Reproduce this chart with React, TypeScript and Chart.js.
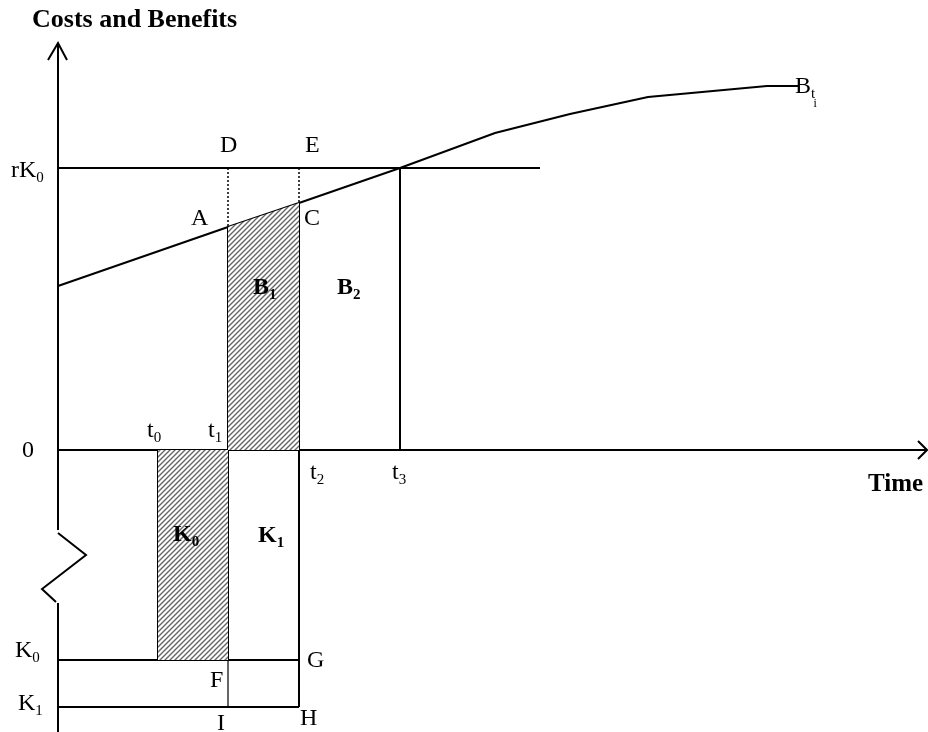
import React, { useEffect, useRef } from "react";
import { Chart, registerables } from "chart.js";

Chart.register(...registerables);

// Time points on the horizontal axis (t0..t3), measured from the vertical axis
const timeNames = ["t0", "t1", "t2", "t3"];
const timePoints = [100, 170, 241, 342];

// Levels on the vertical axis
const levelNames = ["rK0", "0", "K0", "K1"];
const levelValues = [282, 0, -210, -257];

// Benefit curve B_ti
const benefitX = [0, 170, 241, 342, 437, 512, 590, 709, 740];
const benefitY = [164, 223, 247, 282, 317, 336, 353, 364, 364];

// Axis extents
const axisTop = 407;
const axisBreakTop = -80;
const axisBreakBottom = -153;
const axisBottom = -282;
const timeAxisEnd = 869;
const rK0LineEnd = 482;

const FONT = '"Liberation Serif", "Times New Roman", serif';

function makeHatch(): CanvasPattern | string {
  const s = 5;
  const c = document.createElement("canvas");
  c.width = s;
  c.height = s;
  const g = c.getContext("2d");
  if (!g) return "#999";
  g.fillStyle = "#ffffff";
  g.fillRect(0, 0, s, s);
  g.strokeStyle = "#666666";
  g.lineWidth = 1.4;
  g.beginPath();
  g.moveTo(0, s);
  g.lineTo(s, 0);
  g.moveTo(-1, 1);
  g.lineTo(1, -1);
  g.moveTo(s - 1, s + 1);
  g.lineTo(s + 1, s - 1);
  g.stroke();
  const p = g.createPattern(c, "repeat");
  return p || "#999";
}

type Label = {
  text: string;
  sub?: string;
  subsub?: string;
  x: number;
  y: number;
  bold?: boolean;
  size?: number;
};

export default function App() {
  const ref = useRef<HTMLCanvasElement | null>(null);

  useEffect(() => {
    document.body.style.margin = "0";
    document.body.style.overflow = "hidden";
    const canvas = ref.current;
    if (!canvas) return;
    const hatch = makeHatch();

    const [t0, t1, t2, t3] = timePoints;
    const [rK0, zero, K0, K1] = levelValues;
    const yA = benefitY[1];
    const yC = benefitY[2];

    const line = (pts: [number, number][], extra: any = {}) => ({
      type: "line",
      data: pts.map(([x, y]) => ({ x, y })),
      borderColor: "#000",
      borderWidth: 2,
      pointRadius: 0,
      fill: false,
      tension: 0,
      clip: false,
      ...extra,
    });

    const labels: Label[] = [
      { text: "Costs and Benefits", x: -26, y: 423, bold: true, size: 26 },
      { text: "rK", sub: "0", x: -47, y: rK0 - 9 },
      { text: "D", x: t1 - 8, y: rK0 + 16 },
      { text: "E", x: t2 + 6, y: rK0 + 16 },
      { text: "A", x: t1 - 37, y: yA + 2 },
      { text: "C", x: t2 + 5, y: yC - 22 },
      { text: "B", sub: "1", x: 195, y: 156, bold: true },
      { text: "B", sub: "2", x: 279, y: 156, bold: true },
      { text: levelNames[1], x: -36, y: zero - 7 },
      { text: "t", sub: "0", x: t0 - 11, y: 13 },
      { text: "t", sub: "1", x: t1 - 20, y: 13 },
      { text: "t", sub: "2", x: t2 + 11, y: -29 },
      { text: "t", sub: "3", x: t3 - 8, y: -29 },
      { text: "Time", x: 810, y: -41, bold: true, size: 25 },
      { text: "K", sub: "0", x: 115, y: -91, bold: true },
      { text: "K", sub: "1", x: 200, y: -92, bold: true },
      { text: "K", sub: "0", x: -43, y: K0 + 3 },
      { text: "K", sub: "1", x: -40, y: K1 - 3 },
      { text: "G", x: t2 + 8, y: K0 - 7 },
      { text: "F", x: t1 - 18, y: K0 - 27 },
      { text: "I", x: t1 - 11, y: K1 - 23 },
      { text: "H", x: t2 + 1, y: K1 - 18 },
      { text: "B", sub: "t", subsub: "i", x: 737, y: 357 },
    ];

    const textPlugin = {
      id: "diagramText",
      afterDatasetsDraw(chart: any) {
        const { ctx, scales } = chart;
        const xs = scales.x;
        const ys = scales.y;
        ctx.save();
        ctx.fillStyle = "#000";
        ctx.textBaseline = "alphabetic";
        ctx.textAlign = "left";
        for (const l of labels) {
          const size = l.size || 24;
          const px = xs.getPixelForValue(l.x);
          const py = ys.getPixelForValue(l.y);
          const w = l.bold ? "bold " : "";
          ctx.font = `${w}${size}px ${FONT}`;
          ctx.fillText(l.text, px, py);
          const cx = px + ctx.measureText(l.text).width;
          if (l.sub) {
            const ss = Math.round(size * 0.64);
            ctx.font = `${w}${ss}px ${FONT}`;
            ctx.fillText(l.sub, cx, py + 5);
            const subW = ctx.measureText(l.sub).width;
            if (l.subsub) {
              const sss = Math.round(size * 0.52);
              ctx.font = `${w}${sss}px ${FONT}`;
              ctx.fillText(l.subsub, cx + subW * 0.6, py + 14);
            }
          }
        }
        ctx.restore();
      },
    };

    const datasets: any[] = [
      // hatched areas
      line(
        [
          [t1, yA],
          [t2, yC],
        ],
        { fill: "origin", backgroundColor: hatch, borderWidth: 0 }
      ),
      line(
        [
          [t0, K0],
          [t1, K0],
        ],
        { fill: "origin", backgroundColor: hatch, borderWidth: 0 }
      ),
      // vertical axis with break
      line([
        [0, axisTop],
        [0, axisBreakTop],
      ]),
      line([
        [0, axisBreakTop - 3],
        [28, -105],
        [-16, -139],
        [-2, axisBreakBottom + 1],
      ]),
      line([
        [0, axisBreakBottom],
        [0, axisBottom],
      ]),
      line([
        [-10, axisTop - 17],
        [0, axisTop],
        [9, axisTop - 17],
      ]),
      // horizontal time axis
      line([
        [0, zero],
        [timeAxisEnd, zero],
      ]),
      line([
        [timeAxisEnd - 9, zero + 9],
        [timeAxisEnd, zero],
        [timeAxisEnd - 9, zero - 9],
      ]),
      // rK0 line
      line([
        [0, rK0],
        [rK0LineEnd, rK0],
      ]),
      // benefit curve
      line(benefitX.map((x, i) => [x, benefitY[i]] as [number, number])),
      // verticals
      line([
        [t1, yA],
        [t1, K0],
      ]),
      line(
        [
          [t1, K0],
          [t1, K1],
        ],
        { borderWidth: 1.2 }
      ),
      line([
        [t2, yC],
        [t2, K1],
      ]),
      line([
        [t3, rK0],
        [t3, zero],
      ]),
      line([
        [t0, zero],
        [t0, K0],
      ]),
      // K levels
      line([
        [0, K0],
        [t2, K0],
      ]),
      line([
        [0, K1],
        [t2, K1],
      ]),
      // dotted lines
      line(
        [
          [t1, rK0],
          [t1, yA],
        ],
        { borderWidth: 1.5, borderDash: [2, 2] }
      ),
      line(
        [
          [t2, rK0],
          [t2, yC],
        ],
        { borderWidth: 1.5, borderDash: [2, 2] }
      ),
    ];

    const chart = new Chart(canvas, {
      type: "scatter",
      data: { datasets },
      options: {
        animation: false,
        responsive: false,
        maintainAspectRatio: false,
        devicePixelRatio: 1,
        layout: { padding: 0 },
        plugins: {
          legend: { display: false },
          tooltip: { enabled: false },
        },
        scales: {
          x: { type: "linear", min: -58, max: 870, display: false },
          y: { type: "linear", min: -282, max: 450, display: false },
        },
        events: [],
      },
      plugins: [textPlugin],
    } as any);

    return () => chart.destroy();
  }, []);

  return (
    <canvas
      ref={ref}
      width={928}
      height={732}
      style={{ display: "block", width: 928, height: 732, background: "#fff" }}
    />
  );
}
